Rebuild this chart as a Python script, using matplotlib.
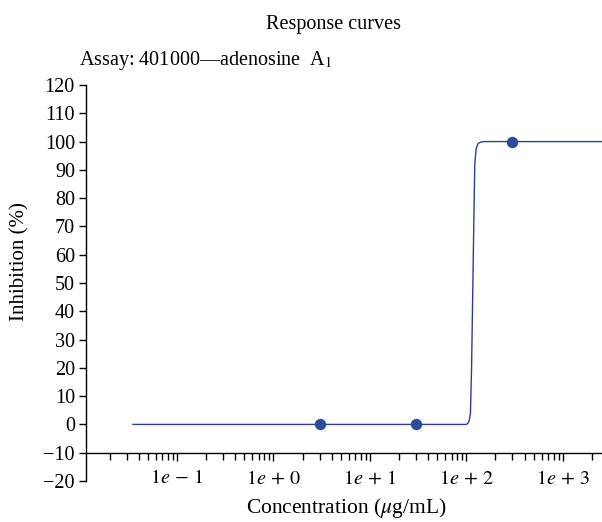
import matplotlib.pyplot as plt
import matplotlib.ticker as ticker
import numpy as np

plt.rcParams['font.family'] = ['Liberation Serif', 'DejaVu Serif']
plt.rcParams['mathtext.fontset'] = 'stix'

# measured points (concentration in ug/mL, inhibition in %)
conc = [3, 30, 300]
inhibition = [0, 0, 100]

# fitted curve
curve_conc = [0.035, 100, 104, 107, 110, 113, 116, 119, 122, 126, 132, 140, 150, 3000]
curve_inh = [0, 0, 0.5, 1.5, 4, 20, 45, 70, 92, 97.5, 99.3, 99.8, 100, 100]

xtick_vals = [0.1, 1, 10, 100, 1000]
xtick_labels = [r"$1e\,-\,1$", r"$1e\,+\,0$", r"$1e\,+\,1$", r"$1e\,+\,2$", r"$1e\,+\,3$"]
ytick_vals = list(range(-20, 121, 10))
ytick_labels = [str(v).replace('-', '\u2212') for v in ytick_vals]

blue = '#2c3c9c'
fs = 14.5

fig = plt.figure(figsize=(6.02, 5.22), dpi=100)
ax = fig.add_axes([86/602, 1 - 481/522, 1 - 86/602, (481 - 85)/522])

ax.plot(curve_conc, curve_inh, color=blue, lw=1.0, zorder=2)
ax.plot(conc, inhibition, 'o', color='#2e4aa0', ms=7.2, zorder=3)

ax.set_xscale('log')
ax.set_xlim(0.0114, 2540)
ax.set_ylim(-20, 120)

ax.spines['top'].set_visible(False)
ax.spines['right'].set_visible(False)
ax.spines['bottom'].set_position(('data', -10))
ax.spines['left'].set_linewidth(1.0)
ax.spines['bottom'].set_linewidth(1.0)

ax.set_xticks(xtick_vals)
ax.set_xticklabels(xtick_labels)
ax.xaxis.set_minor_locator(ticker.LogLocator(base=10, subs=np.arange(2, 10)))
ax.xaxis.set_minor_formatter(ticker.NullFormatter())
ax.set_yticks(ytick_vals)
ax.set_yticklabels(ytick_labels)

ax.tick_params(axis='x', which='major', length=6, width=1.0, pad=6, labelsize=fs)
ax.tick_params(axis='x', which='minor', length=5, width=1.0)
ax.tick_params(axis='y', which='major', length=5, width=1.0, pad=3, labelsize=fs)

fig.text(334/602, 1 - 25/522, "Response curves", ha='center', va='center', fontsize=fs)
fig.text(79/602, 1 - 60/522, r"Assay: 401000—adenosine  A$_1$", ha='left', va='center', fontsize=fs)
fig.text(346/602, 1 - 508/522, r"Concentration ($\mu$g/mL)", ha='center', va='center', fontsize=15.5)
fig.text(20/602, 1 - 262/522, "Inhibition (%)", ha='center', va='center', rotation=90, fontsize=15)

fig.savefig('out.png', dpi=100)
